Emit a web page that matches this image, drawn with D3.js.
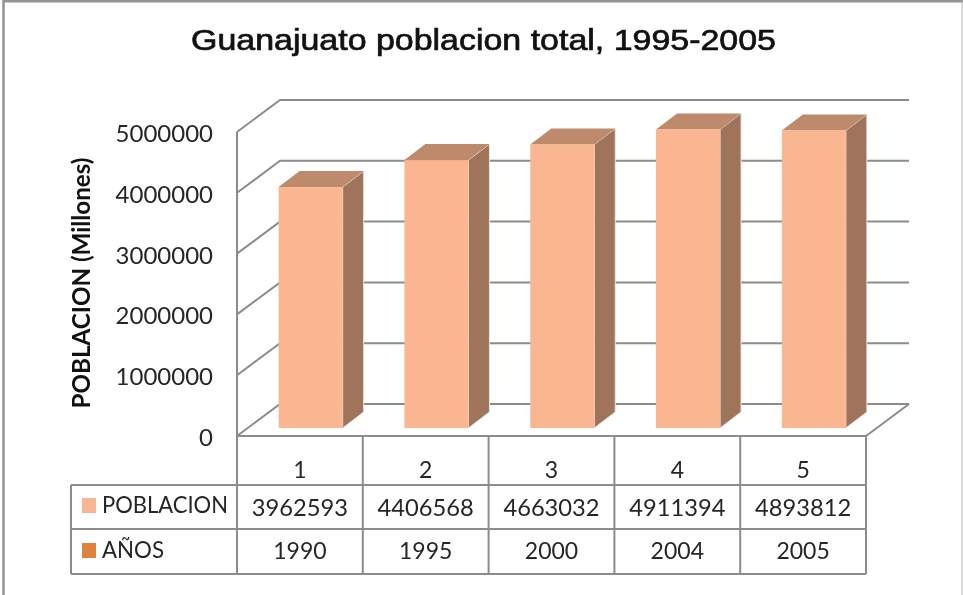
<!DOCTYPE html>
<html>
<head>
<meta charset="utf-8">
<script src="https://cdn.jsdelivr.net/npm/d3@7"></script>
<style>
html, body { margin: 0; padding: 0; background: #fff; }
svg { display: block; filter: blur(0.4px); }
text { font-family: Lato, "Open Sans", sans-serif; fill: #262626; }
</style>
</head>
<body>
<svg id="grafica" width="963" height="595"></svg>
<script>
const indices = ["1", "2", "3", "4", "5"];
const poblacion = [3962593, 4406568, 4663032, 4911394, 4893812];
const anios = ["1990", "1995", "2000", "2004", "2005"];
const ticks = [0, 1000000, 2000000, 3000000, 4000000, 5000000];

const width = 963, height = 595;
const svg = d3.select("#grafica");

// plano frontal del eje, la pared del fondo va desplazada
const izq = 237, der = 866, y0 = 436, y5M = 132;
const fondoX = 43, fondoY = -32;
const gris = "#8c8c8c";

const x = d3.scaleBand().domain(indices).range([izq, der]);
const y = d3.scaleLinear().domain([0, 5000000]).range([y0, y5M]);

// marco
svg.append("path")
    .attr("d", "M3.5,595V1.2H963")
    .attr("fill", "none").attr("stroke", "#949494").attr("stroke-width", 2.5);
svg.append("path")
    .attr("d", "M962,0V595")
    .attr("fill", "none").attr("stroke", "#b5b5b5").attr("stroke-width", 1);

svg.append("text")
    .attr("x", 483.5).attr("y", 50)
    .attr("text-anchor", "middle")
    .attr("textLength", 585)
    .attr("lengthAdjust", "spacingAndGlyphs")
    .style("font-family", "'Liberation Sans', Arial, sans-serif")
    .style("font-size", "30px")
    .style("fill", "#111")
    .style("stroke", "#111")
    .style("stroke-width", 0.7)
    .text("Guanajuato poblacion total, 1995-2005");

// rejilla
const rejilla = svg.append("g").attr("fill", "none").attr("stroke", gris).attr("stroke-width", 2);
ticks.forEach(t => {
    rejilla.append("path")
        .attr("d", d3.line()([[izq, y(t)], [izq + fondoX, y(t) + fondoY], [der + fondoX, y(t) + fondoY]]));
});
rejilla.append("path").attr("d", d3.line()([[izq, y(0)], [izq, y(5000000)]]));
rejilla.append("path").attr("d", d3.line()([[der, y(0)], [der + fondoX, y(0) + fondoY]]));

// etiquetas del eje y
svg.append("g").selectAll("text")
    .data(ticks)
    .join("text")
    .attr("x", 213).attr("y", d => y(d) + 10)
    .attr("text-anchor", "end")
    .style("font-size", "24px")
    .text(d => d);

svg.append("text")
    .attr("transform", "translate(90,283) rotate(-90)")
    .attr("text-anchor", "middle")
    .attr("textLength", 251)
    .attr("lengthAdjust", "spacingAndGlyphs")
    .style("font-size", "24px")
    .style("font-weight", "bold")
    .style("fill", "#111")
    .text("POBLACION (Millones)");

// barras
const anchoBarra = 64, profX = 21, profY = -16, insetX = 10.75, insetY = -8;
const barras = svg.append("g").selectAll("g")
    .data(indices.map((d, i) => ({ cat: d, val: poblacion[i] })))
    .join("g");

const xBarra = d => x(d.cat) + x.bandwidth() / 2 + insetX - anchoBarra / 2;
const yBarra = d => y(d.val) + insetY;
const baseBarra = y(0) + insetY;

barras.append("path")
    .attr("fill", "#a0745a")
    .attr("stroke", "#e6e6e6")
    .attr("stroke-width", 1)
    .attr("d", d => {
        const r = xBarra(d) + anchoBarra;
        return d3.line()([[r, yBarra(d)], [r + profX, yBarra(d) + profY], [r + profX, baseBarra + profY], [r, baseBarra]]) + "Z";
    });
barras.append("path")
    .attr("fill", "#bd8a6c")
    .attr("d", d => {
        const l = xBarra(d), t = yBarra(d);
        return d3.line()([[l, t], [l + profX, t + profY], [l + anchoBarra + profX, t + profY], [l + anchoBarra, t]]) + "Z";
    });
barras.append("rect")
    .attr("x", xBarra).attr("y", yBarra)
    .attr("width", anchoBarra)
    .attr("height", d => baseBarra - yBarra(d))
    .attr("fill", "#fab690");

// tabla de datos
const filas = [436, 485, 529, 574];
const tablaIzq = 71;
const tabla = svg.append("g").attr("stroke", gris).attr("stroke-width", 2).attr("fill", "none");
tabla.append("line").attr("x1", izq).attr("x2", der).attr("y1", filas[0]).attr("y2", filas[0]);
filas.slice(1).forEach(f => {
    tabla.append("line").attr("x1", tablaIzq).attr("x2", der).attr("y1", f).attr("y2", f);
});
tabla.append("line").attr("x1", tablaIzq).attr("x2", tablaIzq).attr("y1", filas[1]).attr("y2", filas[3]);
d3.range(indices.length + 1).forEach(i => {
    const px = i < indices.length ? x(indices[i]) : der;
    tabla.append("line").attr("x1", px).attr("x2", px).attr("y1", filas[0]).attr("y2", filas[3]);
});

const centro = d => x(d) + x.bandwidth() / 2;
const columna = (valores, yTexto, tam) => svg.append("g").selectAll("text")
    .data(valores)
    .join("text")
    .attr("x", (d, i) => centro(indices[i]))
    .attr("y", yTexto)
    .attr("text-anchor", "middle")
    .style("font-size", tam)
    .text(d => d);

columna(indices, 478, "23px");
columna(poblacion, 515.5, "23.7px");
columna(anios, 559, "23px");

// leyenda de la tabla
[["POBLACION", "#fab690", 498, 513, 126], ["AÑOS", "#dc843e", 543, 558, 62]].forEach(([nombre, color, yCaja, yTexto, largo]) => {
    svg.append("rect").attr("x", 82).attr("y", yCaja).attr("width", 14).attr("height", 15).attr("fill", color);
    svg.append("text").attr("x", 102).attr("y", yTexto)
        .attr("textLength", largo).attr("lengthAdjust", "spacingAndGlyphs")
        .style("font-size", "23px").text(nombre);
});
</script>
</body>
</html>
